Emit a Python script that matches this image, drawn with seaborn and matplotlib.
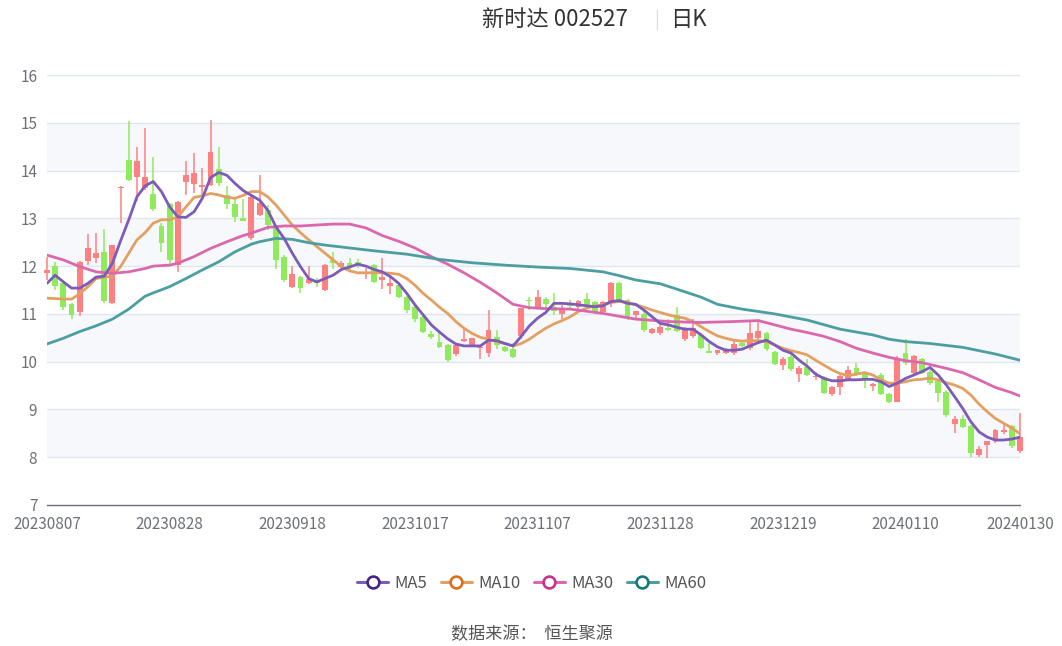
import numpy as np
import pandas as pd
import seaborn as sns
import matplotlib
matplotlib.use("Agg")
import matplotlib.pyplot as plt
from matplotlib.lines import Line2D

# 数据
# ==============================================================================
dates = ["20230807", "20230828", "20230918", "20231017", "20231107",
         "20231128", "20231219", "20240110", "20240130"]
date_idx = [0, 15, 30, 45, 60, 75, 90, 105, 119]

opens = [11.86, 12.0, 11.65, 11.2, 11.04, 12.1, 12.17, 12.3, 11.23, 13.64,
         14.22, 13.87, 13.63, 13.51, 12.84, 13.3, 12.02, 13.76, 13.72, 13.66,
         13.7, 14.03, 13.49, 13.3, 13.0, 12.59, 13.07, 13.17, 12.82, 12.19,
         11.56, 11.77, 11.65, 11.68, 11.5, 12.13, 11.98, 12.06, 12.08, 11.83,
         12.02, 11.71, 11.59, 11.6, 11.36, 11.15, 10.93, 10.58, 10.42, 10.34,
         10.16, 10.44, 10.35, 10.28, 10.18, 10.51, 10.31, 10.26, 10.53, 11.3,
         11.12, 11.31, 11.15, 11.0, 11.21, 11.15, 11.31, 11.24, 11.03, 11.22,
         11.64, 11.29, 10.98, 11.0, 10.61, 10.59, 10.7, 10.98, 10.47, 10.54,
         10.56, 10.23, 10.19, 10.18, 10.19, 10.4, 10.28, 10.49, 10.59, 10.21,
         9.93, 10.09, 9.74, 9.88, 9.67, 9.67, 9.32, 9.46, 9.62, 9.86,
         9.77, 9.5, 9.72, 9.32, 9.16, 10.18, 9.76, 10.05, 9.79, 9.6,
         9.37, 8.69, 8.81, 8.65, 8.05, 8.26, 8.33, 8.53, 8.65, 8.14]
closes = [11.92, 11.58, 11.15, 10.97, 12.09, 12.38, 12.27, 11.27, 12.44, 13.66,
          13.8, 14.21, 13.87, 13.2, 12.48, 12.13, 13.34, 13.91, 13.95, 13.7,
          14.39, 13.74, 13.3, 13.03, 12.95, 13.45, 13.32, 12.86, 12.13, 11.71,
          11.83, 11.54, 11.73, 11.65, 12.02, 12.07, 12.06, 11.99, 12.0, 11.88,
          11.67, 11.78, 11.64, 11.35, 11.08, 10.89, 10.63, 10.51, 10.31, 10.03,
          10.35, 10.47, 10.49, 10.31, 10.66, 10.35, 10.23, 10.09, 11.12, 11.27,
          11.36, 11.21, 11.05, 11.12, 11.17, 11.26, 11.19, 11.01, 11.24, 11.64,
          11.29, 10.91, 11.05, 10.66, 10.68, 10.73, 10.67, 10.65, 10.68, 10.7,
          10.28, 10.19, 10.24, 10.26, 10.38, 10.33, 10.59, 10.65, 10.26, 9.95,
          10.05, 9.84, 9.86, 9.72, 9.7, 9.35, 9.46, 9.69, 9.82, 9.72,
          9.62, 9.52, 9.32, 9.16, 10.07, 9.98, 10.12, 9.76, 9.55, 9.34,
          8.88, 8.81, 8.64, 8.08, 8.17, 8.33, 8.56, 8.57, 8.23, 8.43]
highs = [12.2, 12.09, 11.7, 11.22, 12.1, 12.67, 12.69, 12.78, 12.45, 13.67,
         15.04, 14.5, 14.89, 14.28, 12.9, 13.32, 13.36, 14.2, 14.37, 14.05,
         15.06, 14.5, 13.68, 13.45, 13.4, 13.47, 13.9, 13.28, 12.84, 12.23,
         12.0, 11.79, 12.0, 11.75, 12.04, 12.3, 12.1, 12.18, 12.14, 11.95,
         12.05, 12.16, 11.78, 11.62, 11.38, 11.17, 10.95, 10.65, 10.63, 10.36,
         10.37, 10.7, 10.5, 10.35, 11.08, 10.66, 10.33, 10.39, 11.13, 11.36,
         11.49, 11.36, 11.44, 11.19, 11.29, 11.29, 11.43, 11.26, 11.28, 11.67,
         11.67, 11.31, 11.06, 11.08, 10.7, 10.77, 10.89, 11.14, 10.73, 10.89,
         10.58, 10.4, 10.25, 10.28, 10.43, 10.44, 10.86, 10.87, 10.62, 10.23,
         10.09, 10.13, 9.91, 10.05, 9.79, 9.7, 9.5, 9.72, 9.9, 9.97,
         9.79, 9.56, 9.77, 9.34, 10.12, 10.47, 10.14, 10.07, 9.82, 9.62,
         9.4, 8.86, 8.88, 8.67, 8.24, 8.34, 8.6, 8.67, 8.68, 8.93]
lows = [11.7, 11.5, 11.08, 10.9, 10.95, 12.02, 12.07, 11.23, 11.2, 12.9,
        13.78, 13.37, 13.59, 13.15, 12.3, 12.05, 11.88, 13.49, 13.53, 13.47,
        13.68, 13.68, 13.2, 12.92, 12.94, 12.55, 13.05, 12.76, 11.94, 11.67,
        11.55, 11.44, 11.62, 11.56, 11.47, 11.94, 11.95, 11.88, 11.95, 11.74,
        11.65, 11.53, 11.42, 11.33, 11.01, 10.84, 10.6, 10.48, 10.29, 9.99,
        10.11, 10.42, 10.33, 10.05, 10.1, 10.26, 10.2, 10.08, 10.48, 11.08,
        11.1, 11.08, 10.98, 10.89, 11.08, 11.08, 11.15, 10.99, 11.0, 11.15,
        11.27, 10.88, 10.88, 10.63, 10.58, 10.55, 10.65, 10.63, 10.43, 10.49,
        10.26, 10.18, 10.14, 10.16, 10.14, 10.3, 10.24, 10.45, 10.22, 9.92,
        9.83, 9.81, 9.58, 9.71, 9.62, 9.32, 9.28, 9.3, 9.6, 9.69,
        9.44, 9.39, 9.3, 9.13, 9.15, 9.93, 9.74, 9.74, 9.52, 9.16,
        8.85, 8.51, 8.62, 8.0, 8.0, 7.98, 8.3, 8.49, 8.2, 8.09]

ma5 = [11.64, 11.81, 11.67, 11.54, 11.54, 11.64, 11.77, 11.79, 12.06, 12.53,
       12.97, 13.45, 13.68, 13.77, 13.56, 13.24, 13.03, 13.02, 13.14, 13.42,
       13.85, 13.96, 13.9, 13.73, 13.58, 13.48, 13.38, 13.17, 12.82, 12.58,
       12.27, 11.99, 11.74, 11.67, 11.74, 11.81, 11.93, 11.98, 12.04, 12.0,
       11.93, 11.88, 11.78, 11.64, 11.43, 11.19, 10.98, 10.77, 10.62, 10.48,
       10.37, 10.33, 10.33, 10.33, 10.45, 10.44, 10.38, 10.33, 10.53, 10.75,
       10.91, 11.03, 11.22, 11.22, 11.21, 11.19, 11.17, 11.15, 11.17, 11.26,
       11.28, 11.22, 11.2, 11.08, 10.94, 10.8, 10.77, 10.72, 10.68, 10.68,
       10.56, 10.42, 10.31, 10.24, 10.24, 10.26, 10.33, 10.4, 10.45, 10.35,
       10.24, 10.18, 10.03, 9.9, 9.74, 9.65, 9.6, 9.6, 9.62, 9.62,
       9.63, 9.63, 9.58, 9.48, 9.55, 9.65, 9.72, 9.79, 9.88, 9.72,
       9.51, 9.27, 9.02, 8.74, 8.53, 8.42, 8.36, 8.36, 8.38, 8.42]
ma10 = [11.33, 11.32, 11.31, 11.31, 11.42, 11.57, 11.74, 11.77, 11.79, 11.99,
        12.27, 12.55, 12.7, 12.9, 12.97, 12.97, 13.03, 13.24, 13.44, 13.47,
        13.52, 13.49, 13.44, 13.42, 13.48, 13.56, 13.56, 13.45, 13.28, 13.07,
        12.86, 12.7, 12.55, 12.41, 12.27, 12.13, 11.99, 11.9, 11.86, 11.86,
        11.86, 11.86, 11.85, 11.83, 11.74, 11.6, 11.43, 11.29, 11.14, 11.01,
        10.84, 10.7, 10.59, 10.51, 10.47, 10.42, 10.38, 10.33, 10.38, 10.47,
        10.59, 10.7, 10.79, 10.86, 10.94, 11.05, 11.12, 11.17, 11.19, 11.24,
        11.26, 11.24, 11.19, 11.14, 11.08, 11.03, 10.98, 10.94, 10.91, 10.84,
        10.73, 10.63, 10.54, 10.49, 10.45, 10.43, 10.44, 10.44, 10.42, 10.35,
        10.28, 10.23, 10.19, 10.14, 10.03, 9.93, 9.83, 9.75, 9.71, 9.74,
        9.77, 9.72, 9.62, 9.55, 9.55, 9.58, 9.62, 9.63, 9.66, 9.62,
        9.56, 9.51, 9.44, 9.3, 9.11, 8.95, 8.81, 8.71, 8.61, 8.49]

ma30_idx = [0, 2, 4, 6, 8, 10, 12, 13, 15, 16, 18, 20, 22, 24, 25, 27, 29, 31,
            33, 35, 37, 39, 41, 43, 45, 47, 49, 51, 53, 55, 57, 59, 61, 64, 68,
            72, 76, 80, 84, 87, 89, 91, 93, 95, 97, 99, 101, 103, 105, 107, 109,
            110, 112, 114, 116, 118, 119]
ma30 = [12.23, 12.13, 11.99, 11.88, 11.85, 11.88, 11.95, 12.0, 12.02, 12.06,
        12.2, 12.37, 12.51, 12.64, 12.69, 12.81, 12.84, 12.84, 12.86, 12.88,
        12.88, 12.8, 12.64, 12.52, 12.38, 12.2, 12.04, 11.86, 11.66, 11.44,
        11.2, 11.13, 11.11, 11.1, 11.01, 10.89, 10.84, 10.82, 10.84, 10.86,
        10.77, 10.68, 10.61, 10.53, 10.42, 10.28, 10.18, 10.09, 10.02, 9.98,
        9.9, 9.86, 9.77, 9.62, 9.46, 9.35, 9.28]

ma60_idx = [0, 2, 4, 6, 8, 10, 12, 13, 15, 17, 19, 21, 23, 25, 26, 28, 30, 32,
            34, 36, 40, 44, 48, 52, 56, 60, 64, 68, 70, 72, 75, 77, 80, 82, 85,
            89, 93, 97, 101, 103, 105, 108, 112, 116, 119]
ma60 = [10.37, 10.49, 10.63, 10.75, 10.89, 11.1, 11.37, 11.44, 11.57, 11.74,
        11.92, 12.09, 12.3, 12.46, 12.51, 12.58, 12.56, 12.49, 12.44, 12.4,
        12.32, 12.25, 12.14, 12.07, 12.02, 11.98, 11.95, 11.88, 11.8, 11.71,
        11.63, 11.52, 11.35, 11.2, 11.1, 11.0, 10.87, 10.68, 10.56, 10.47,
        10.42, 10.38, 10.3, 10.16, 10.03]

# Gráfico
# ==============================================================================
sns.set_theme(style="white")
plt.rcParams['font.family'] = ['Noto Sans CJK SC', 'DejaVu Sans']

UP = '#FF8080'
DOWN = '#8FEB5C'

df = pd.DataFrame({"open": opens, "close": closes, "high": highs, "low": lows})
df["x"] = np.arange(len(df))
df["up"] = df["close"] >= df["open"]
df["bottom"] = df[["open", "close"]].min(axis=1)
df["height"] = (df["close"] - df["open"]).abs().clip(lower=0.025)
colors = np.where(df["up"], UP, DOWN)

fig = plt.figure(figsize=(10.62, 6.46), dpi=100)
ax = fig.add_axes([47 / 1062, 141 / 646, 973 / 1062, 430 / 646])

# bandas de fondo
for lo in [8, 10, 12, 14]:
    ax.axhspan(lo, lo + 1, color='#F6F8FC', zorder=0, lw=0)
for y in range(8, 17):
    ax.axhline(y, color='#E0E6F1', lw=1, zorder=1)

ax.vlines(df["x"], df["low"], df["high"], colors=colors, lw=1.1, zorder=2, clip_on=False)
ax.bar(df["x"], df["height"], bottom=df["bottom"], width=0.72, color=colors,
       lw=0, zorder=3, clip_on=False)

line_cols = {"MA5": '#7C5CB8', "MA10": '#E3A062', "MA30": '#DB68AC', "MA60": '#4C9EA0'}
edge_cols = {"MA5": '#4A2287', "MA10": '#D8711C', "MA30": '#C7348E', "MA60": '#16787A'}

sns.lineplot(x=np.arange(len(ma5)), y=ma5, ax=ax, color=line_cols["MA5"], lw=2, zorder=5)
sns.lineplot(x=np.arange(len(ma10)), y=ma10, ax=ax, color=line_cols["MA10"], lw=2, zorder=4)
sns.lineplot(x=ma30_idx, y=ma30, ax=ax, color=line_cols["MA30"], lw=2, zorder=4)
sns.lineplot(x=ma60_idx, y=ma60, ax=ax, color=line_cols["MA60"], lw=2, zorder=4)

ax.set_xlim(0, 119)
ax.set_ylim(7, 16)
ax.set_yticks(range(7, 17))
ax.set_yticklabels([str(v) for v in range(7, 17)], color='#6E7079', fontsize=11)
ax.set_xticks(date_idx)
ax.set_xticklabels(dates, color='#6E7079', fontsize=11)
ax.tick_params(axis='y', length=0, pad=7)
ax.tick_params(axis='x', length=5, color='#6E7079', width=1, pad=3, direction='out')
for s in ["top", "right", "left"]:
    ax.spines[s].set_visible(False)
ax.spines["bottom"].set_color('#6E7079')
ax.spines["bottom"].set_linewidth(1)
ax.set_xlabel("")
ax.set_ylabel("")
ax.grid(False)

# título
fig.text(555 / 1062, 1 - 20 / 646, "新时达 002527", ha='center', va='center',
         fontsize=16, color='#333333')
fig.text(657 / 1062, 1 - 20 / 646, "|", ha='center', va='center',
         fontsize=13, color='#DDDDDD')
fig.text(688 / 1062, 1 - 20 / 646, "日K", ha='center', va='center',
         fontsize=16, color='#333333')

# leyenda
handles = [Line2D([0], [0], color=line_cols[k], lw=2.2, marker='o', markersize=8.5,
                  markerfacecolor='white', markeredgecolor=edge_cols[k], markeredgewidth=1.9)
           for k in ["MA5", "MA10", "MA30", "MA60"]]
fig.legend(handles, ["MA5", "MA10", "MA30", "MA60"], loc='center',
           bbox_to_anchor=(532 / 1062, 1 - 583 / 646), ncol=4, frameon=False,
           fontsize=12, handlelength=1.85, handletextpad=0.4, columnspacing=0.8,
           labelcolor='#555555')

fig.text(532 / 1062, 1 - 634 / 646, "数据来源：  恒生聚源", ha='center', va='center',
         fontsize=12.3, color='#555555')

fig.savefig("out.png", dpi=100)
